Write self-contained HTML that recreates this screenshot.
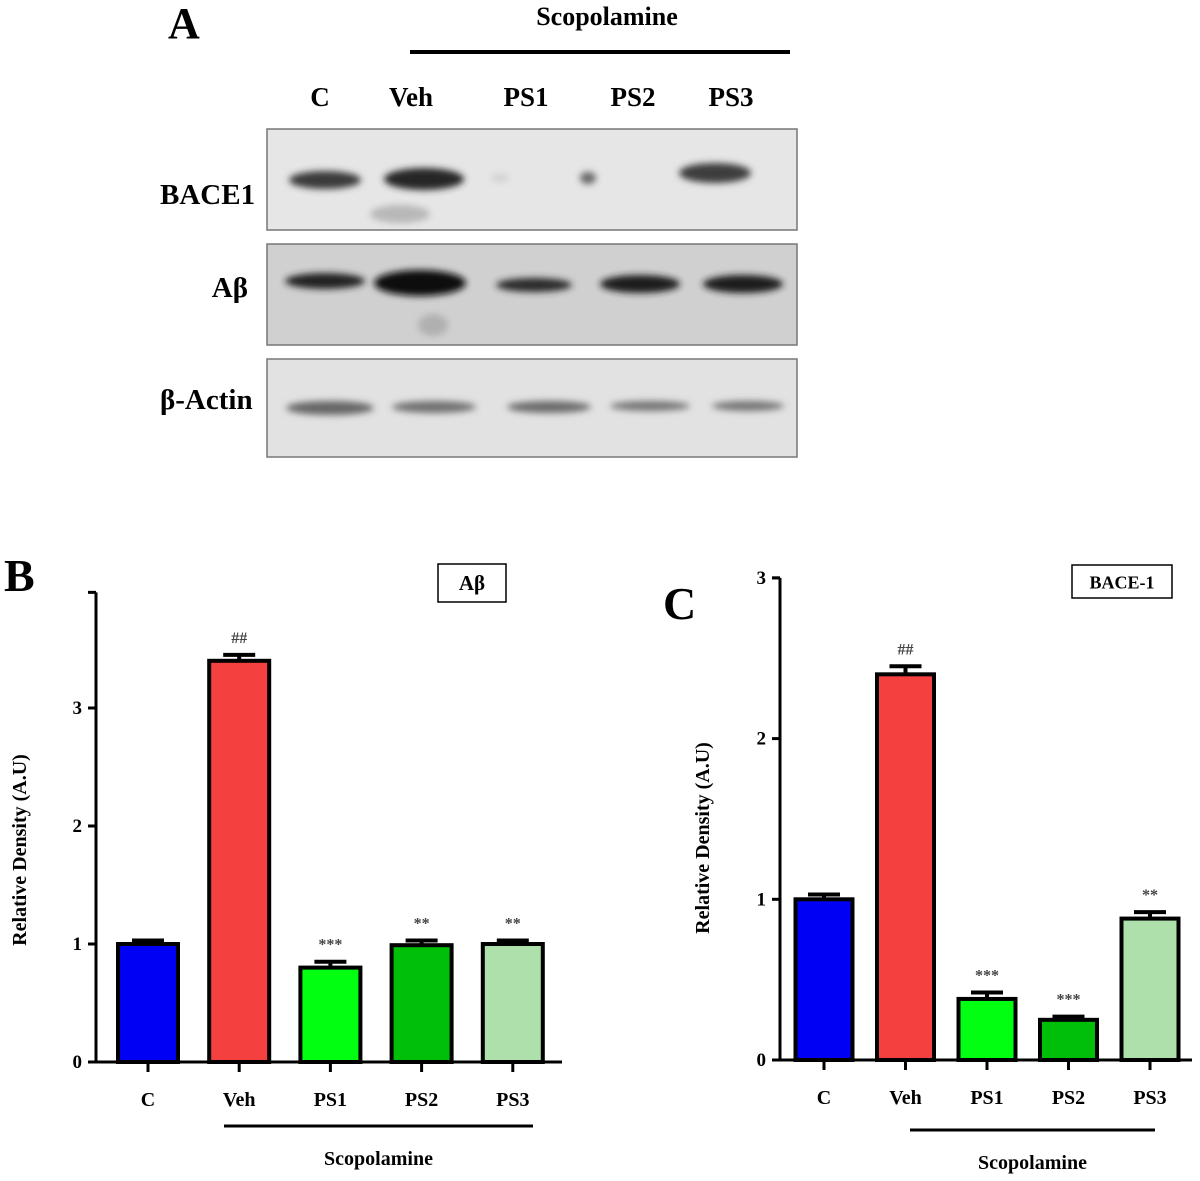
<!DOCTYPE html>
<html><head><meta charset="utf-8"><style>
html,body{margin:0;padding:0;background:#fff;}
svg{display:block;font-family:"Liberation Serif",serif;font-weight:bold;}
</style></head><body>
<svg id="fig" width="1200" height="1181" viewBox="0 0 1200 1181">
<defs>
<filter id="blur" x="-30%" y="-100%" width="160%" height="300%"><feGaussianBlur stdDeviation="3.5"/></filter>
</defs>
<!-- Panel A -->
<g>
<text x="168" y="38" font-size="44">A</text>
<text x="607" y="25" font-size="26" text-anchor="middle">Scopolamine</text>
<line x1="410" y1="52" x2="790" y2="52" stroke="#000" stroke-width="4"/>
<g font-size="27" text-anchor="middle">
<text x="320" y="106">C</text>
<text x="411" y="106">Veh</text>
<text x="526" y="106">PS1</text>
<text x="633" y="106">PS2</text>
<text x="731" y="106">PS3</text>
</g>
<text x="160" y="204" font-size="29">BACE1</text>
<text x="248" y="297" font-size="29" text-anchor="end">Aβ</text>
<text x="160" y="409" font-size="29">β-Actin</text>
<g>
<rect x="267" y="129" width="530" height="101" fill="#e6e6e6" stroke="#777" stroke-width="1.5"/>
<g filter="url(#blur)">
<ellipse cx="325" cy="180" rx="36" ry="9" fill="#3a3a3a"/>
<ellipse cx="424" cy="179" rx="40" ry="11" fill="#252525"/>
<ellipse cx="400" cy="214" rx="30" ry="9" fill="#b8b8b8"/>
<ellipse cx="588" cy="178" rx="8" ry="6" fill="#666"/>
<ellipse cx="715" cy="173" rx="36" ry="10" fill="#3e3e3e"/>
<ellipse cx="500" cy="178" rx="9" ry="4" fill="#d0d0d0"/>
</g></g>
<g>
<rect x="267" y="244" width="530" height="101" fill="#d0d0d0" stroke="#777" stroke-width="1.5"/>
<g filter="url(#blur)">
<ellipse cx="325" cy="281" rx="40" ry="8" fill="#222"/>
<ellipse cx="420" cy="283" rx="46" ry="13" fill="#111"/>
<ellipse cx="433" cy="325" rx="15" ry="11" fill="#b0b0b0"/>
<ellipse cx="534" cy="285" rx="38" ry="7" fill="#2a2a2a"/>
<ellipse cx="640" cy="284" rx="40" ry="9" fill="#1d1d1d"/>
<ellipse cx="743" cy="284" rx="40" ry="9" fill="#1a1a1a"/>
</g></g>
<g>
<rect x="267" y="359" width="530" height="98" fill="#e2e2e2" stroke="#777" stroke-width="1.5"/>
<g filter="url(#blur)">
<ellipse cx="330" cy="408" rx="44" ry="7" fill="#666"/>
<ellipse cx="434" cy="407" rx="42" ry="6" fill="#707070"/>
<ellipse cx="549" cy="407" rx="42" ry="6" fill="#6a6a6a"/>
<ellipse cx="650" cy="406" rx="40" ry="5" fill="#757575"/>
<ellipse cx="748" cy="406" rx="36" ry="5" fill="#757575"/>
</g></g>
</g>
<g id="chartB"></g>
<g id="chartC"></g>
</svg>
<script>
const categories = ["C","Veh","PS1","PS2","PS3"];
const colors = ["#0000f5","#f54040","#00ff10","#00bf08","#aee0ab"];
const valuesB = [1.0, 3.4, 0.8, 0.99, 1.0];
const errorsB = [0.03, 0.05, 0.05, 0.04, 0.03];
const marksB = ["", "##", "***", "**", "**"];
const ticksB = [0, 1, 2, 3];
const valuesC = [1.0, 2.4, 0.38, 0.25, 0.88];
const errorsC = [0.03, 0.05, 0.04, 0.02, 0.04];
const marksC = ["", "##", "***", "***", "**"];
const ticksC = [0, 1, 2, 3];

const NS = "http://www.w3.org/2000/svg";
function mk(parent, tag, attrs, text){
  const e = document.createElementNS(NS, tag);
  for (const k in attrs) e.setAttribute(k, attrs[k]);
  if (text !== undefined) e.textContent = text;
  parent.appendChild(e);
  return e;
}
function drawChart(g, cfg, values, errors, marks, ticks){
  const y = v => cfg.y0 - v * cfg.unit;
  const x = i => cfg.x0 + i * cfg.step;
  values.forEach((v,i)=>{
    const cx = x(i);
    const r = mk(g,"rect",{x:cx-cfg.bw/2,y:y(v),width:cfg.bw,height:cfg.y0-y(v),fill:colors[i],stroke:"#000","stroke-width":4});
    
    
    const eb = mk(g,"path",{d:`M${cx} ${y(v)} V${y(v+errors[i])} M${cx-16} ${y(v+errors[i])} H${cx+16}`,stroke:"#000","stroke-width":4,fill:"none"});
    
    
    if (marks[i]) {
      const t = mk(g,"text",{x:cx,y:y(v+errors[i])-cfg.markGap,"text-anchor":"middle","font-size":16,fill:"#444"},marks[i]);
      
      
    }
    const tk = mk(g,"line",{x1:cx,y1:cfg.y0,x2:cx,y2:cfg.y0+10,stroke:"#000","stroke-width":3});
    
    
    const lb = mk(g,"text",{x:cx,y:cfg.y0+44,"text-anchor":"middle","font-size":20},categories[i]);
    
    
  });
  const ya = mk(g,"line",{x1:cfg.ax,y1:cfg.y0,x2:cfg.ax,y2:y(cfg.ymax),stroke:"#000","stroke-width":3});
  
  
  const xa = mk(g,"line",{x1:cfg.ax,y1:cfg.y0,x2:cfg.xend,y2:cfg.y0,stroke:"#000","stroke-width":3});
  
  
  const topTick = mk(g,"line",{x1:cfg.ax-8,y1:y(cfg.ymax),x2:cfg.ax,y2:y(cfg.ymax),stroke:"#000","stroke-width":3});
  
  
  ticks.forEach(t=>{
    const l = mk(g,"line",{x1:cfg.ax-8,y1:y(t),x2:cfg.ax,y2:y(t),stroke:"#000","stroke-width":3});
    
    
    const tt = mk(g,"text",{x:cfg.ax-14,y:y(t)+6,"text-anchor":"end","font-size":19},String(t));
    
    
  });
  const yt = mk(g,"text",{transform:`translate(${cfg.ytx},${cfg.yty}) rotate(-90)`,"text-anchor":"middle","font-size":20},"Relative Density (A.U)");
  
  
  const sl = mk(g,"line",{x1:cfg.sx1,y1:cfg.sy,x2:cfg.sx2,y2:cfg.sy,stroke:"#000","stroke-width":3});
  
  
  const st = mk(g,"text",{x:(cfg.sx1+cfg.sx2)/2,y:cfg.sy+39,"text-anchor":"middle","font-size":20},"Scopolamine");
  
  
  const lg = mk(g,"rect",{x:cfg.lx,y:cfg.ly,width:cfg.lw,height:cfg.lh,fill:"#fff",stroke:"#000","stroke-width":1.5});
  
  
  const lt = mk(g,"text",{x:cfg.lx+cfg.lw/2,y:cfg.ly+cfg.lh/2+7,"text-anchor":"middle","font-size":cfg.lfs},cfg.legend);
  
  
  const pl = mk(g,"text",{x:cfg.px,y:cfg.py,"font-size":46},cfg.panel);
  
  
}
drawChart(document.getElementById("chartB"),
  {x0:148,step:91.2,bw:60,y0:1062,unit:118,ymax:3.98,ax:96,xend:562,markGap:12,ytx:26,yty:850,
   sx1:224,sx2:533,sy:1126,lx:438,ly:564,lw:68,lh:38,lfs:21,legend:"Aβ",panel:"B",px:4,py:591},
  valuesB, errorsB, marksB, ticksB);
drawChart(document.getElementById("chartC"),
  {x0:824,step:81.5,bw:57,y0:1060,unit:160.7,ymax:3,ax:780,xend:1192,markGap:12,ytx:709,yty:838,
   sx1:910,sx2:1155,sy:1130,lx:1072,ly:565,lw:100,lh:33,lfs:18,legend:"BACE-1",panel:"C",px:663,py:619},
  valuesC, errorsC, marksC, ticksC);
</script>
</body></html>
